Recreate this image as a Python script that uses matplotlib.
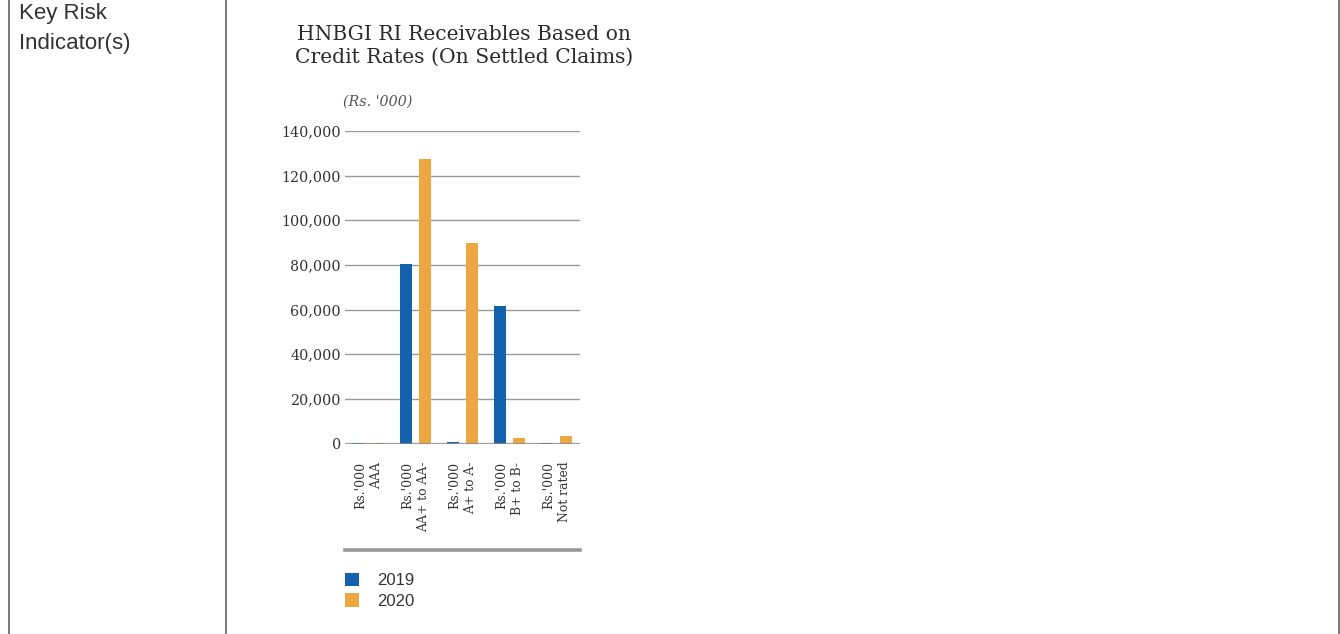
import matplotlib
matplotlib.use("Agg")
import matplotlib.pyplot as plt
import numpy as np

# data (Rs. '000)
categories = ["Rs.'000\nAAA", "Rs.'000\nAA+ to AA-", "Rs.'000\nA+ to A-",
              "Rs.'000\nB+ to B-", "Rs.'000\nNot rated"]
vals_2019 = [400, 80400, 800, 61700, 300]
vals_2020 = [300, 127500, 90000, 2600, 3500]
yticks = [0, 20000, 40000, 60000, 80000, 100000, 120000, 140000]

blue = "#1462ae"
orange = "#eca742"
grid_col = "#9a9a9a"
serif = ["DejaVu Serif"]

fig = plt.figure(figsize=(13.4, 6.34), dpi=100)
W, H = 1340, 634


def fx(px):
    return px / W


def fy(py):
    return 1 - py / H


# table frame lines
for x in [8.5, 225.5, 1338.5]:
    fig.add_artist(plt.Line2D([fx(x), fx(x)], [0, 1], color="#6e6e6e", lw=1.3))

fig.text(fx(19), fy(3), "Key Risk\nIndicator(s)", fontsize=16, color="#333333",
         family=["Liberation Sans"], va="top", ha="left", linespacing=1.55)

ax = fig.add_axes([fx(345), fy(443.5), fx(580 - 345), (443.5 - 131) / H])
x = np.arange(len(categories))
bw = 0.26
off = 0.2
b1 = ax.bar(x - off, vals_2019, bw, color=blue, label="2019", zorder=2)
b2 = ax.bar(x + off, vals_2020, bw, color=orange, label="2020", zorder=2)

ax.set_xlim(-0.5, len(categories) - 0.5)
ax.set_ylim(0, 140000)
ax.set_yticks(yticks)
ax.set_yticklabels([f"{v:,}" for v in yticks], family=serif, fontsize=10.3, color="#333333")
ax.yaxis.grid(True, color=grid_col, lw=1.0, zorder=0)
ax.axhline(0, color="#8a8a8a", lw=1.6, zorder=3, alpha=0.8)
ax.tick_params(axis="y", length=0, pad=3)
ax.tick_params(axis="x", length=0, pad=13)
ax.set_xticks(x)
ax.set_xticklabels(categories, rotation=90, family=serif, fontsize=8.9, color="#333333",
                   va="top", ha="center", multialignment="right", linespacing=1.3)
for s in ax.spines.values():
    s.set_visible(False)

# title and unit note
fig.text(fx(464), fy(46), "HNBGI RI Receivables Based on\nCredit Rates (On Settled Claims)",
         ha="center", va="center", fontsize=14.6, family=serif, color="#2b2b2b", linespacing=1.2)
fig.text(fx(378), fy(102), "(Rs. '000)", ha="center", va="center", fontsize=10.3,
         family=serif, style="italic", color="#555555")

# separator under the category labels
fig.add_artist(plt.Line2D([fx(345), fx(580)], [fy(550), fy(550)], color="#999999", lw=2.6))

leg = ax.legend(handles=[b1, b2], loc="upper left", bbox_to_anchor=(fx(330), fy(558)),
                bbox_transform=fig.transFigure, frameon=False, handlelength=0.85,
                handleheight=0.85, handletextpad=1.1, labelspacing=0.3,
                prop={"family": "Liberation Sans", "size": 12})
for t in leg.get_texts():
    t.set_color("#333333")

fig.savefig("out.png", dpi=100, facecolor="white")
